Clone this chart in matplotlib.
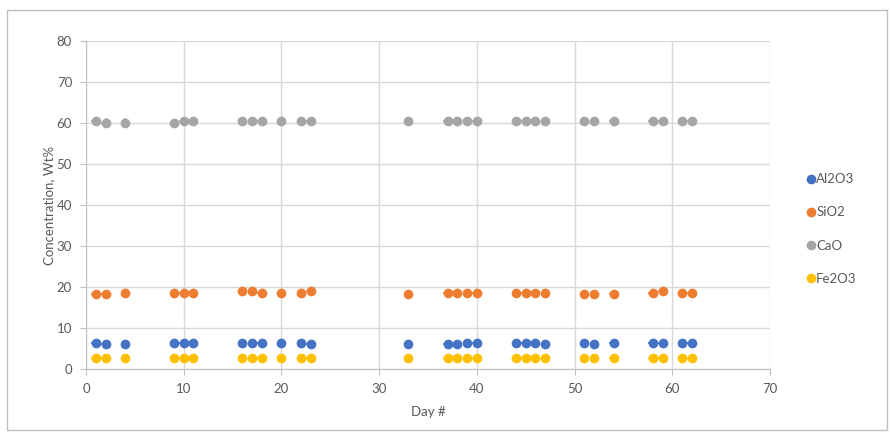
import numpy as np
import matplotlib
matplotlib.use("Agg")
import matplotlib.pyplot as plt
from matplotlib.patches import Rectangle

days = [1, 2, 4, 9, 10, 11, 16, 17, 18, 20, 22, 23, 33, 37, 38, 39, 40,
        44, 45, 46, 47, 51, 52, 54, 58, 59, 61, 62]

al2o3 = [6.4, 6.1, 6.0, 6.4, 6.4, 6.4, 6.4, 6.4, 6.4, 6.4, 6.4, 6.0, 6.0, 6.0,
         6.0, 6.3, 6.4, 6.4, 6.4, 6.4, 6.0, 6.4, 6.0, 6.4, 6.4, 6.4, 6.4, 6.4]
sio2 = [18.2, 18.2, 18.5, 18.5, 18.5, 18.5, 19.0, 19.0, 18.6, 18.6, 18.6, 19.0,
        18.2, 18.6, 18.6, 18.6, 18.6, 18.6, 18.6, 18.6, 18.6, 18.2, 18.2, 18.2,
        18.6, 19.0, 18.6, 18.6]
cao = [60.5, 60.1, 60.1, 60.0, 60.5, 60.5, 60.5, 60.5, 60.5, 60.5, 60.5, 60.5,
       60.5, 60.5, 60.5, 60.5, 60.5, 60.5, 60.5, 60.5, 60.5, 60.5, 60.5, 60.5,
       60.5, 60.5, 60.5, 60.5]
fe2o3 = [2.7] * 28

series = [("Al2O3", al2o3, "#4472c4"),
          ("SiO2", sio2, "#ed7d31"),
          ("CaO", cao, "#a5a5a5"),
          ("Fe2O3", fe2o3, "#ffc000")]

plt.rcParams['font.family'] = ['Lato', 'DejaVu Sans']
txt = "#595959"
grid = "#d9d9d9"

fig = plt.figure(figsize=(8.92, 4.42), dpi=100)
ax = fig.add_axes([86/892, 1-369/442, (770-86)/892, (369-41)/442])

for name, vals, col in series:
    ax.errorbar(days, vals, xerr=0.45, yerr=1.0, fmt='o', color=col, ms=7,
                mew=0, elinewidth=1.2, capsize=0, label=name)

ax.set_xlim(0, 70)
ax.set_ylim(0, 80)
ax.set_xticks(range(0, 71, 10))
ax.set_yticks(range(0, 81, 10))
ax.grid(True, color=grid, lw=1)
ax.set_axisbelow(True)
for s in ['top', 'right']:
    ax.spines[s].set_visible(False)
for s in ['left', 'bottom']:
    ax.spines[s].set_color("#bfbfbf")
ax.tick_params(colors="#bfbfbf", labelcolor=txt, labelsize=9.5, length=4,
               direction='out')
ax.tick_params(axis='x', pad=6)
ax.tick_params(axis='y', pad=6)
ax.set_xlabel("Day #", color=txt, fontsize=9.5, labelpad=8)
ax.set_ylabel("Concentration, Wt%", color=txt, fontsize=9.5, labelpad=1)

labels = [n for n, _, _ in series]
handles = [plt.Line2D([], [], ls='', marker='o', ms=7, mew=0, color=c)
           for _, _, c in series]
leg = fig.legend(handles, labels, loc='center left',
                 bbox_to_anchor=(795/892, 1-229/442), frameon=False,
                 fontsize=9.5, labelspacing=1.6, handlelength=0.6,
                 handletextpad=0.1)
for t in leg.get_texts():
    t.set_color(txt)

fig.patches.append(Rectangle((7/892, 1-430/442), 880/892, 420/442,
                             transform=fig.transFigure, fill=False,
                             ec="#bfbfbf", lw=1))

fig.savefig("out.png", dpi=100)
